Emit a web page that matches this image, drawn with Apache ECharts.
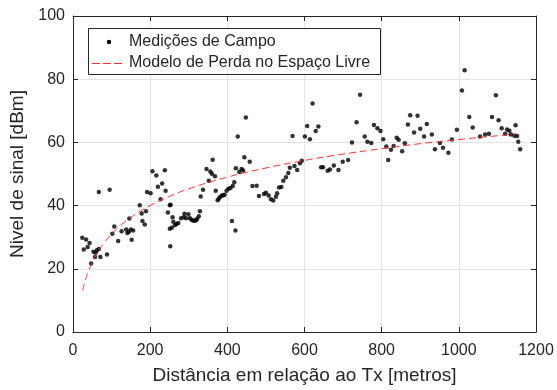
<!DOCTYPE html>
<html>
<head>
<meta charset="utf-8">
<script src="https://cdn.jsdelivr.net/npm/echarts@6/dist/echarts.min.js"></script>
<style>html,body{margin:0;padding:0;background:#fff}#c{width:557px;height:390px}</style>
</head>
<body>
<div id="c"></div>
<script>
// Field measurements: distance [m] and signal level [dBm]
const measDist = [24,28,34,38,43,47,53,57,59,62,67,67,71,88,95,102,107,117,126,138,141,145,146,150,152,156,173,178,180,186,189,192,201,206,216,220,227,231,238,240,246,251,251,252,253,256,258,260,264,268,273,280,287,289,293,299,303,307,311,315,319,322,326,329,331,337,346,352,356,360,362,368,370,375,378,381,386,389,393,398,403,408,412,414,418,421,422,427,431,437,441,444,448,458,465,476,482,495,500,507,513,519,526,529,534,540,545,552,558,562,569,574,581,588,593,601,607,614,621,629,636,643,648,660,666,676,688,699,713,723,735,744,756,763,773,780,789,797,804,812,817,824,831,839,844,853,860,868,874,884,893,900,910,917,930,938,951,959,973,982,995,1008,1015,1027,1036,1055,1068,1078,1086,1096,1103,1111,1120,1125,1131,1135,1144,1147,1151,1154,1159];
const measLevel = [29.8,26.1,29.3,26.9,28.2,21.7,25.4,23.7,25.1,25.9,26.3,44.3,23.7,24.5,45.0,31.1,33.4,28.8,31.9,32.4,31.3,31.7,35.9,32.4,29.2,32.1,40.1,37.5,35.1,34.0,38.2,44.3,43.9,50.9,49.5,46.0,42.0,47.0,51.2,44.7,37.8,40.1,32.7,27.1,40.3,33.0,36.3,34.9,33.8,34.2,34.5,36.0,36.3,37.4,36.0,37.3,36.0,35.5,35.3,35.2,35.4,35.8,36.6,38.2,42.9,45.0,51.6,47.9,50.8,50.1,54.5,49.3,44.7,41.7,42.2,42.7,43.2,43.3,43.4,44.7,45.3,45.6,35.1,46.2,47.4,32.1,51.8,61.9,50.6,51.6,51.1,55.3,67.9,53.9,46.2,46.3,43.0,43.7,44.1,43.2,42.0,41.6,42.8,43.9,45.7,45.9,47.9,49.0,50.3,52.0,62.0,52.5,51.3,53.4,54.2,61.9,65.2,61.0,72.3,63.6,65.0,52.1,52.1,51.0,51.4,52.7,51.3,53.9,54.4,60.0,66.4,75.1,61.9,60.2,59.8,65.5,64.5,63.6,61.0,58.7,54.4,57.7,58.9,61.5,60.8,57.2,59.7,65.7,68.6,63.1,68.4,64.3,61.9,65.8,62.5,57.8,59.8,58.3,56.7,60.9,64.0,76.4,82.8,68.0,64.7,61.9,62.5,62.7,68.0,74.9,67.0,64.5,62.7,64.1,63.7,62.5,62.1,65.4,62.0,60.2,57.8];
// Free-space loss model curve
const modelDist = [25,30,35,40,50,60,70,80,100,125,150,200,250,300,400,500,600,700,800,900,1000,1100,1150];
const modelLevel = [13.1,15.5,17.5,19.2,22.1,24.5,26.4,28.1,31.0,33.9,36.3,40.0,42.9,45.3,49.0,51.9,54.3,56.3,58.0,59.6,60.9,62.1,62.7];
const xTicks = [0,200,400,600,800,1000,1200];
const yTicks = [0,20,40,60,80,100];
const seriesNames = ['Medições de Campo','Modelo de Perda no Espaço Livre'];

const FONT = "'Liberation Sans', Arial, Helvetica, sans-serif";
const TXT = '#262626';
const chart = echarts.init(document.getElementById('c'), null, {renderer:'canvas'});

const measData = measDist.map((d,i)=>[d, measLevel[i]]);
const modelData = modelDist.map((d,i)=>[d, modelLevel[i]]);

const G = {left:73, right:21, top:16, bottom:56};
const commonX = {type:'value', min:xTicks[0], max:xTicks[xTicks.length-1], interval:200};
const commonY = {type:'value', min:yTicks[0], max:yTicks[yTicks.length-1], interval:20};
const plain = v => String(v);

chart.setOption({
  animation:false,
  backgroundColor:'#fff',
  grid:{left:G.left, right:G.right, top:G.top, bottom:G.bottom, containLabel:false},
  xAxis:[
    Object.assign({}, commonX, {
      position:'bottom',
      name:'Distância em relação ao Tx [metros]', nameLocation:'middle', nameGap:34,
      nameTextStyle:{fontFamily:FONT, fontSize:19, color:TXT},
      axisLine:{show:true, onZero:false, lineStyle:{color:TXT, width:1}},
      axisTick:{show:true, inside:true, length:5, lineStyle:{color:TXT}},
      axisLabel:{fontFamily:FONT, fontSize:16, color:TXT, margin:11, formatter:plain},
      splitLine:{show:true, lineStyle:{color:'#e3e3e3', width:1}}
    }),
    Object.assign({}, commonX, {
      position:'top',
      axisLine:{show:true, onZero:false, lineStyle:{color:TXT, width:1}},
      axisTick:{show:true, inside:true, length:5, lineStyle:{color:TXT}},
      axisLabel:{show:false}, splitLine:{show:false}
    })
  ],
  yAxis:[
    Object.assign({}, commonY, {
      position:'left',
      name:'Nivel de sinal [dBm]', nameLocation:'middle', nameGap:45,
      nameTextStyle:{fontFamily:FONT, fontSize:19, color:TXT},
      axisLine:{show:true, onZero:false, lineStyle:{color:TXT, width:1}},
      axisTick:{show:true, inside:true, length:5, lineStyle:{color:TXT}},
      axisLabel:{fontFamily:FONT, fontSize:16, color:TXT, margin:8, formatter:plain},
      splitLine:{show:true, lineStyle:{color:'#e3e3e3', width:1}}
    }),
    Object.assign({}, commonY, {
      position:'right',
      axisLine:{show:true, onZero:false, lineStyle:{color:TXT, width:1}},
      axisTick:{show:true, inside:true, length:5, lineStyle:{color:TXT}},
      axisLabel:{show:false}, splitLine:{show:false}
    })
  ],
  series:[
    {name:seriesNames[0], type:'scatter', xAxisIndex:0, yAxisIndex:0, data:measData,
     symbol:'circle', symbolSize:4.5, itemStyle:{color:'#000'}, z:3},
    {name:seriesNames[1], type:'line', xAxisIndex:0, yAxisIndex:0, data:modelData,
     smooth:true, showSymbol:false, symbol:'none',
     lineStyle:{color:'#ff3030', width:1, type:[7,4]}, z:4}
  ],
  graphic:[
    {type:'rect', shape:{x:88.5, y:28.5, width:292, height:46}, style:{fill:'#fff', stroke:TXT, lineWidth:1}, z:10},
    {type:'circle', shape:{cx:109, cy:42, r:2.2}, style:{fill:'#000'}, z:11},
    {type:'line', shape:{x1:92, y1:63.5, x2:124, y2:63.5}, style:{stroke:'#ff3030', lineWidth:1, lineDash:[8,3]}, z:11},
    {type:'text', x:129, y:42, style:{text:seriesNames[0], font:'16px '+FONT, fill:TXT, verticalAlign:'middle'}, z:11},
    {type:'text', x:129, y:63, style:{text:seriesNames[1], font:'16px '+FONT, fill:TXT, verticalAlign:'middle'}, z:11}
  ]
});
</script>
</body>
</html>
